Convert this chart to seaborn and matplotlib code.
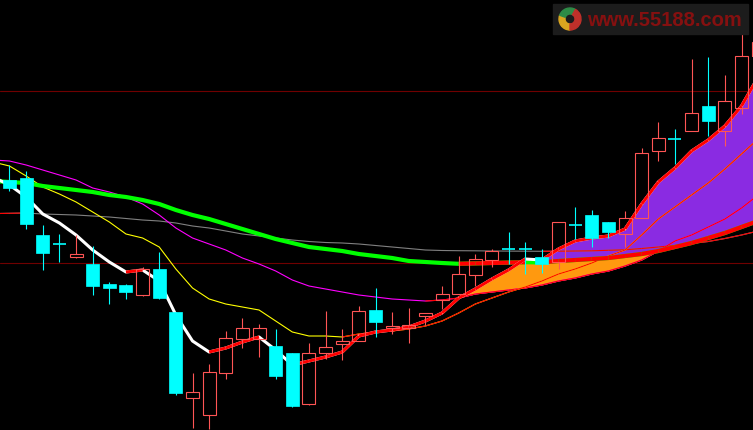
import numpy as np
import pandas as pd
import matplotlib
matplotlib.use("Agg")
import matplotlib.pyplot as plt
from matplotlib.patches import Rectangle, Wedge
from matplotlib.collections import LineCollection
import seaborn as sns

# ---------------- data (price units) ----------------
# daily candles, index 0..45 (the last one is cut off by the right edge)
OPEN  = [25.0, 25.2, 19.5, 18.6, 17.3, 16.6, 14.6, 14.5, 13.5, 16.1,
         11.8, 3.2, 1.5, 5.7, 9.1, 9.1, 8.4, 7.7, 2.6, 7.7,
         8.6, 8.9, 12.0, 10.2, 10.2, 11.4, 13.0, 13.6, 15.5, 17.0,
         18.1, 18.1, 17.3, 16.8, 20.5, 21.5, 20.8, 19.6, 21.2, 27.9,
         29.1, 29.9, 32.4, 29.9, 32.2, 37.4]
HIGH  = [26.5, 25.9, 20.5, 19.6, 19.5, 18.4, 14.8, 14.6, 16.3, 17.8,
         11.8, 5.7, 6.6, 9.9, 11.2, 10.6, 10.1, 7.7, 8.7, 11.9,
         10.1, 12.4, 14.2, 11.8, 12.2, 11.7, 14.4, 17.4, 17.6, 18.1,
         19.8, 18.8, 18.1, 20.8, 22.3, 22.0, 20.8, 21.9, 28.2, 30.8,
         30.1, 37.1, 37.3, 35.5, 39.7, 39.6]
LOW   = [23.9, 20.1, 16.0, 16.8, 17.2, 13.5, 12.6, 13.1, 13.4, 13.1,
         3.5, 0.2, 0.1, 5.1, 8.2, 7.3, 5.1, 2.3, 2.5, 7.1,
         7.0, 8.9, 9.3, 9.6, 8.7, 10.5, 12.1, 13.6, 14.4, 16.3,
         16.6, 15.6, 15.7, 16.1, 19.1, 18.3, 19.2, 18.3, 21.2, 26.9,
         26.6, 29.9, 29.4, 28.4, 31.6, 37.4]
CLOSE = [24.2, 20.6, 17.7, 18.6, 17.6, 14.4, 14.2, 13.8, 16.1, 13.2,
         3.7, 3.8, 5.8, 9.2, 10.2, 10.2, 5.4, 2.4, 7.7, 8.3,
         8.9, 11.9, 10.8, 10.4, 10.5, 11.7, 13.6, 15.6, 17.1, 17.9,
         18.1, 18.1, 16.6, 20.8, 20.5, 19.2, 19.8, 21.2, 27.7, 29.2,
         29.1, 31.7, 30.9, 32.9, 37.4, 38.8]

# moving averages sampled at candle positions -1..45
MA_IDX = list(range(-1, 46))
MA5 = [25.3, 24.5, 23.3, 21.6, 20.7, 19.5, 18.0, 16.8, 15.8, 16.0,
       14.9, 11.5, 8.9, 7.8, 8.2, 8.8, 9.3, 8.0, 6.5, 6.9,
       7.3, 7.8, 9.4, 9.8, 10.0, 10.3, 10.9, 11.7, 13.2, 14.1,
       15.1, 16.0, 17.1, 17.0, 18.1, 18.9, 19.2, 19.4, 20.1, 22.6,
       24.8, 26.2, 27.9, 29.0, 30.4, 32.4, 35.3]
MA10 = [26.8, 26.4, 25.4, 24.3, 23.6, 22.8, 21.8, 20.8, 19.6, 19.2,
        18.3, 16.1, 14.2, 13.1, 12.6, 12.3, 12.0, 10.9, 9.8, 9.4,
        9.4, 9.3, 9.6, 9.8, 9.9, 10.1, 10.4, 10.9, 11.7, 12.6,
        13.2, 13.8, 14.3, 14.9, 15.6, 16.1, 16.7, 17.4, 18.0, 19.5,
        21.1, 22.3, 23.5, 24.7, 26.1, 27.6, 29.1]
MA20 = [27.0, 26.9, 26.5, 26.0, 25.5, 25.0, 24.2, 23.8, 23.3, 22.6,
        21.5, 20.2, 19.2, 18.6, 18.0, 17.2, 16.6, 15.9, 15.0, 14.4,
        14.1, 13.8, 13.5, 13.3, 13.1, 13.0, 12.9, 13.0, 13.2, 13.6,
        13.8, 14.0, 14.2, 14.5, 14.9, 15.2, 15.6, 15.9, 16.4, 17.0,
        17.9, 18.9, 19.5, 20.3, 21.1, 22.2, 23.5]
MA60 = [24.9, 24.8, 24.7, 24.4, 24.2, 24.0, 23.8, 23.5, 23.3, 23.0,
        22.6, 22.0, 21.5, 21.1, 20.6, 20.1, 19.6, 19.1, 18.7, 18.3,
        18.1, 17.9, 17.6, 17.4, 17.2, 16.9, 16.8, 16.7, 16.62, 16.66,
        16.7, 16.74, 16.78, 16.76, 16.9, 17.0, 17.1, 17.2, 17.4, 17.6,
        17.9, 18.3, 18.7, 19.2, 19.7, 20.3, 20.9]
MA120 = [21.64, 21.67, 21.70, 21.6, 21.55, 21.5, 21.4, 21.3, 21.15, 21.0,
         20.9, 20.7, 20.4, 20.2, 19.9, 19.6, 19.4, 19.2, 19.0, 18.85,
         18.75, 18.7, 18.6, 18.45, 18.3, 18.15, 18.0, 17.95, 17.93, 17.92,
         17.9, 17.89, 17.88, 17.87, 17.88, 17.9, 17.92, 17.97, 18.02, 18.15,
         18.3, 18.45, 18.65, 18.85, 19.15, 19.5, 19.9]

H_LINES = [33.9, 16.7]

UP_EDGE = "#ff5555"
DOWN = "#00ffff"
RISE = "#ff0000"
ORANGE = "#ff990f"
PURPLE = "#8a2be2"

# ---------------- figure ----------------
sns.set_style("dark", {"axes.facecolor": "black", "figure.facecolor": "black"})
fig = plt.figure(figsize=(7.53, 4.31), dpi=100)
fig.patch.set_facecolor("black")
ax = fig.add_axes([0, 0, 1, 1])
ax.set_axis_off()

for y in H_LINES:
    ax.axhline(y, color="#700000", lw=0.8, zorder=0.5)

x = np.array(MA_IDX, dtype=float)
ma5, ma10, ma20 = np.array(MA5), np.array(MA10), np.array(MA20)
ma60, ma120 = np.array(MA60), np.array(MA120)

# orange band: MA5 above MA20, purple band: MA5 above MA60 (drawn on top)
ax.fill_between(x, ma5, ma20, where=ma5 > ma20, interpolate=True,
                color=ORANGE, lw=0, zorder=1)
ax.fill_between(x, ma5, ma60, where=ma5 > ma60, interpolate=True,
                color=PURPLE, lw=0, zorder=1.5)


def draw_ma(vals, base, lw, z):
    df = pd.DataFrame({"i": x, "v": vals})
    sns.lineplot(data=df, x="i", y="v", color=base, lw=lw, ax=ax,
                 estimator=None, sort=False, zorder=z)
    # rising stretches turn red
    segs = [[(x[k], vals[k]), (x[k + 1], vals[k + 1])]
            for k in range(len(vals) - 1) if vals[k + 1] > vals[k]]
    ax.add_collection(LineCollection(segs, colors=RISE, linewidths=lw,
                                     capstyle="butt", zorder=z + 0.1))


draw_ma(ma120, "#808080", 0.8, 2)
draw_ma(ma20, "#ff00ff", 0.8, 2.2)
draw_ma(ma10, "#ffff00", 0.8, 2.4)
draw_ma(ma60, "#00ff00", 3.0, 3)
draw_ma(ma5, "#ffffff", 2.2, 3.4)
ax.set_xlim(-0.571, 44.69)
ax.set_ylim(0, 43.1)

# ---------------- candles ----------------
bw = 0.39
for i, (o, h, l, c) in enumerate(zip(OPEN, HIGH, LOW, CLOSE)):
    if c > o:
        ax.vlines(i, c, h, color=UP_EDGE, lw=0.8, zorder=5)
        ax.vlines(i, l, o, color=UP_EDGE, lw=0.8, zorder=5)
        ax.add_patch(Rectangle((i - bw, o), 2 * bw, c - o, fill=False,
                               edgecolor=UP_EDGE, lw=0.8, zorder=5))
    elif c == o:
        ax.vlines(i, l, h, color=DOWN, lw=0.8, zorder=5)
        ax.hlines(o, i - bw, i + bw, color=DOWN, lw=1.2, zorder=5)
    else:
        ax.vlines(i, l, h, color=DOWN, lw=0.8, zorder=5)
        ax.add_patch(Rectangle((i - bw, c), 2 * bw, o - c, facecolor=DOWN,
                               edgecolor=DOWN, lw=0.5, zorder=5))

# ---------------- watermark ----------------
ax2 = fig.add_axes([0, 0, 1, 1])
ax2.set_xlim(0, 753)
ax2.set_ylim(431, 0)
ax2.set_axis_off()
ax2.add_patch(Rectangle((553, 5), 195, 30, color="#1c1c1c", zorder=1))
ax2.add_patch(Wedge((570, 20), 11, 90, 200, width=6, color="#d9a520", zorder=2))
ax2.add_patch(Wedge((570, 20), 11, 200, 300, width=6, color="#2e8b47", zorder=2))
ax2.add_patch(Wedge((570, 20), 11, -60, 90, width=6, color="#c0302a", zorder=2))
ax2.text(664, 21, "www.55188.com", ha="center", va="center", fontsize=14.5,
         fontweight="bold", family=["Liberation Sans", "DejaVu Sans"],
         color="#851010", zorder=3)

fig.savefig("out.png", dpi=100, facecolor="black")
